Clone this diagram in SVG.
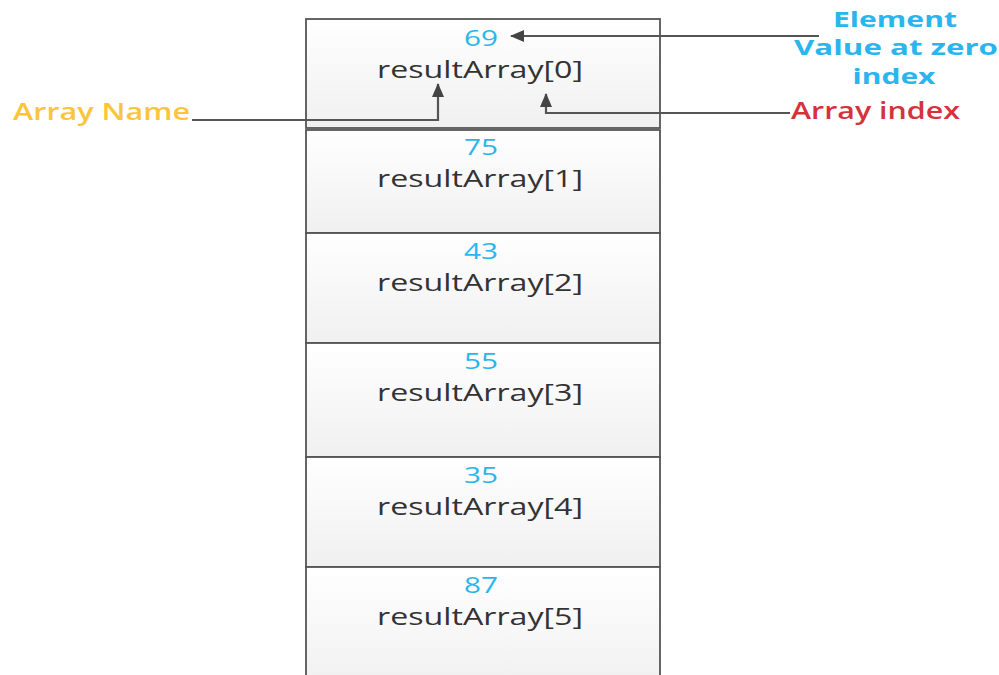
<svg xmlns="http://www.w3.org/2000/svg" width="999" height="675" viewBox="0 0 999 675">
<defs>
<linearGradient id="cellg" x1="0" y1="0" x2="0" y2="1">
<stop offset="0" stop-color="#ffffff"/>
<stop offset="1" stop-color="#f0f0f0"/>
</linearGradient>
<marker id="ah" markerWidth="14" markerHeight="12" refX="13" refY="6" orient="auto" markerUnits="userSpaceOnUse" viewBox="0 0 14 12">
<path d="M0,0 L14,6 L0,12 z" fill="#444"/>
</marker>
</defs>
<style>
.cell{fill:url(#cellg);stroke:#555;stroke-width:1.8}
.val{font-family:"Open Sans","DejaVu Sans",sans-serif;font-size:21px;fill:#2bb5ee;text-anchor:middle;font-weight:500}
.nm{font-family:"Open Sans","DejaVu Sans",sans-serif;font-size:24px;fill:#333;text-anchor:middle;font-weight:500}
.con{fill:none;stroke:#555;stroke-width:2.2}
.lbl{font-family:"Open Sans","DejaVu Sans",sans-serif;font-size:21px;font-weight:bold}
.lbn{font-family:"Open Sans","DejaVu Sans",sans-serif;font-size:23px;font-weight:600}
</style>
<rect width="999" height="675" fill="#fff"/>
<g id="cell0"><rect class="cell" x="306" y="19" width="354" height="109"/>
<text class="val" x="481" y="46" textLength="34" lengthAdjust="spacingAndGlyphs">69</text>
<text class="nm" x="480" y="78" textLength="206" lengthAdjust="spacingAndGlyphs">resultArray[0]</text></g>
<g id="cell1"><rect class="cell" x="306" y="130" width="354" height="103"/>
<text class="val" x="481" y="155" textLength="34" lengthAdjust="spacingAndGlyphs">75</text>
<text class="nm" x="480" y="187" textLength="206" lengthAdjust="spacingAndGlyphs">resultArray[1]</text></g>
<g id="cell2"><rect class="cell" x="306" y="233" width="354" height="110"/>
<text class="val" x="481" y="259" textLength="34" lengthAdjust="spacingAndGlyphs">43</text>
<text class="nm" x="480" y="291" textLength="206" lengthAdjust="spacingAndGlyphs">resultArray[2]</text></g>
<g id="cell3"><rect class="cell" x="306" y="343" width="354" height="114"/>
<text class="val" x="481" y="369" textLength="34" lengthAdjust="spacingAndGlyphs">55</text>
<text class="nm" x="480" y="401" textLength="206" lengthAdjust="spacingAndGlyphs">resultArray[3]</text></g>
<g id="cell4"><rect class="cell" x="306" y="457" width="354" height="110"/>
<text class="val" x="481" y="483" textLength="34" lengthAdjust="spacingAndGlyphs">35</text>
<text class="nm" x="480" y="515" textLength="206" lengthAdjust="spacingAndGlyphs">resultArray[4]</text></g>
<g id="cell5"><rect class="cell" x="306" y="567" width="354" height="120"/>
<text class="val" x="481" y="593" textLength="34" lengthAdjust="spacingAndGlyphs">87</text>
<text class="nm" x="480" y="625" textLength="206" lengthAdjust="spacingAndGlyphs">resultArray[5]</text></g>
<g id="label-element"><text class="lbl" fill="#2bb5ee" text-anchor="middle" x="895" y="27" textLength="124" lengthAdjust="spacingAndGlyphs">Element</text>
<text class="lbl" fill="#2bb5ee" text-anchor="middle" x="896" y="55" textLength="204" lengthAdjust="spacingAndGlyphs">Value at zero</text>
<text class="lbl" fill="#2bb5ee" text-anchor="middle" x="894" y="84" textLength="83" lengthAdjust="spacingAndGlyphs">index</text></g>
<g id="label-index"><text class="lbn" fill="#d6323c" x="791" y="119" textLength="169" lengthAdjust="spacingAndGlyphs">Array index</text></g>
<g id="label-name"><text class="lbn" fill="#fcc43d" x="13" y="120" textLength="177" lengthAdjust="spacingAndGlyphs">Array Name</text></g>
<g id="connectors">
<path class="con" d="M819,36 L511,36" marker-end="url(#ah)"/>
<path class="con" d="M790,113 L546,113 L546,94" marker-end="url(#ah)"/>
<path class="con" d="M192,120 L438,120 L438,84" marker-end="url(#ah)"/>
</g>
</svg>
